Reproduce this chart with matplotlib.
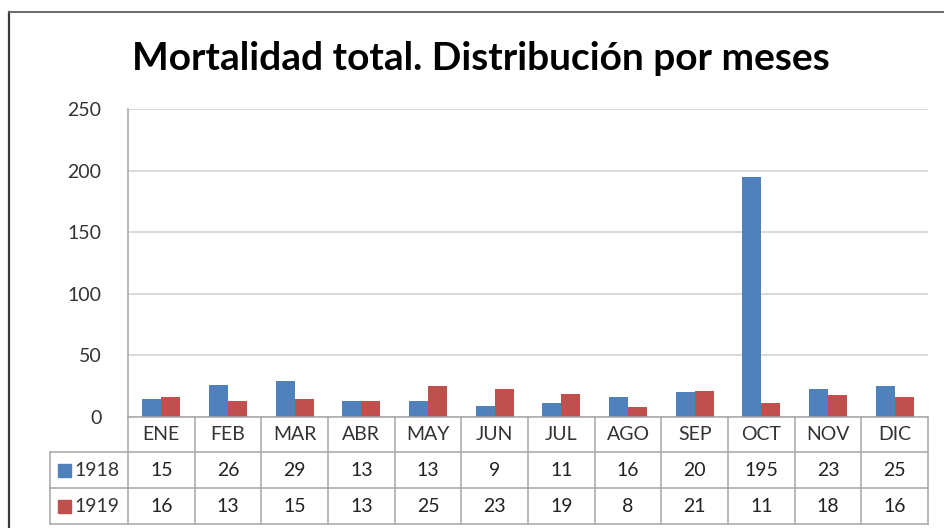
import numpy as np
import matplotlib
matplotlib.use('Agg')
from matplotlib import pyplot as plt
from matplotlib.lines import Line2D
from matplotlib.patches import Rectangle
from matplotlib import transforms

# data
months = ['ENE', 'FEB', 'MAR', 'ABR', 'MAY', 'JUN', 'JUL', 'AGO', 'SEP', 'OCT', 'NOV', 'DIC']
deaths_1918 = [15, 26, 29, 13, 13, 9, 11, 16, 20, 195, 23, 25]
deaths_1919 = [16, 13, 15, 13, 25, 23, 19, 8, 21, 11, 18, 16]
series_names = ['1918', '1919']
yticks = [0, 50, 100, 150, 200, 250]

blue = '#4F81BD'
red = '#C0504D'
grid_col = '#D0D0D0'
table_col = '#A6A6A6'

W, H = 945, 528
fig = plt.figure(figsize=(W / 100, H / 100), dpi=100)
plt.rcParams['font.family'] = ['Lato', 'DejaVu Sans']

def fy(y):
    # pixel row -> figure fraction
    return 1 - y / H

def fx(x):
    return x / W

# plot area in pixels: x 128..928, y 109..417
ax = fig.add_axes([fx(128), fy(417), fx(928) - fx(128), fy(109) - fy(417)])
x = np.arange(len(months))
bw = 0.285
ax.bar(x - bw / 2, deaths_1918, width=bw, color=blue, zorder=3)
ax.bar(x + bw / 2, deaths_1919, width=bw, color=red, zorder=3)

ax.set_xlim(-0.5, len(months) - 0.5)
ax.set_ylim(0, 250)
ax.set_yticks(yticks)
ax.set_yticklabels([str(v) for v in yticks], fontsize=14, color='#333333')
ax.tick_params(axis='y', length=0, pad=19)
ax.set_xticks([])
ax.yaxis.grid(True, color=grid_col, lw=1.1)
for s in ['top', 'right', 'bottom']:
    ax.spines[s].set_visible(False)
ax.spines['left'].set_color(table_col)
ax.spines['left'].set_linewidth(1.1)

# title
fig.text(fx(481), fy(58), 'Mortalidad total. Distribución por meses',
         ha='center', va='center', fontsize=28, fontweight='bold', color='black')

# data table below the plot (x in data coords, y in figure coords)
tr = transforms.blended_transform_factory(ax.transData, fig.transFigure)
row_edges = [417, 452, 488, 524]
lw = 1.1
# horizontal lines
fig.add_artist(Line2D([-0.5, 11.5], [fy(417), fy(417)], transform=tr, color=table_col, lw=lw))
for ry in row_edges[1:]:
    fig.add_artist(Line2D([fx(50), fx(928)], [fy(ry), fy(ry)], color=table_col, lw=lw))
# vertical lines
for k in range(len(months) + 1):
    fig.add_artist(Line2D([k - 0.5, k - 0.5], [fy(417), fy(524)], transform=tr, color=table_col, lw=lw))
fig.add_artist(Line2D([fx(50), fx(50)], [fy(452), fy(524)], color=table_col, lw=lw))

cat_y = fy((417 + 452) / 2)
for i, m in enumerate(months):
    fig.text(i, cat_y, m, transform=tr, ha='center', va='center', fontsize=14, color='#333333')

rows = [deaths_1918, deaths_1919]
colors = [blue, red]
for r, (vals, name, c) in enumerate(zip(rows, series_names, colors)):
    yc = fy((row_edges[r + 1] + row_edges[r + 2]) / 2)
    for i, v in enumerate(vals):
        fig.text(i, yc, str(v), transform=tr, ha='center', va='center', fontsize=14, color='#222222')
    fig.add_artist(Rectangle((fx(58), yc - 6.5 / H), 13 / W, 13 / H, color=c, transform=fig.transFigure))
    fig.text(fx(74), yc, name, ha='left', va='center', fontsize=14, color='#333333')

# outer chart frame (only left and top show in the crop)
fig.add_artist(Line2D([fx(9), fx(9)], [fy(12), fy(528)], color='#3a3a3a', lw=1.6))
fig.add_artist(Line2D([fx(9), fx(945)], [fy(12), fy(12)], color='#6a6a6a', lw=1.4))

fig.savefig('out.png', dpi=100)
